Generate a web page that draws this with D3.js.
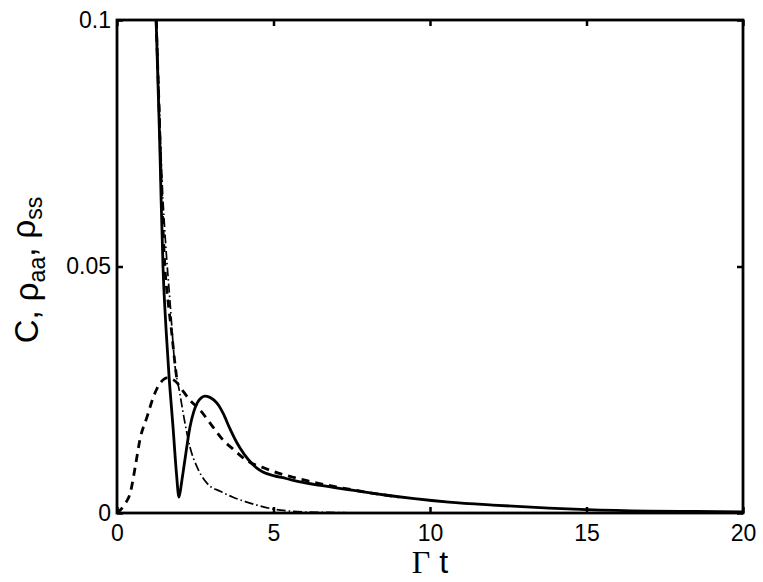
<!DOCTYPE html>
<html>
<head>
<meta charset="utf-8">
<script src="https://cdn.jsdelivr.net/npm/d3@7"></script>
<style>
  body { margin: 0; background: #fff; }
  svg { display: block; }
  .tick-label { font-family: "Liberation Sans", Arial, sans-serif; font-size: 23px; fill: #000; }
</style>
</head>
<body>
<div id="chart"></div>
<script>
// values
var xTicks = [0, 5, 10, 15, 20];
var yTicks = [0, 0.05, 0.1];
var yTickLabels = ["0", "0.05", "0.1"];

// solid curve
var solidT = [1.25, 1.31, 1.37, 1.41, 1.47, 1.57, 1.66, 1.79, 1.9, 1.98, 2.07, 2.17, 2.33, 2.45, 2.56, 2.7, 2.81, 2.95, 3.1, 3.25, 3.4, 3.6, 3.8, 3.93, 4.2, 4.47, 4.66, 5.0, 5.4, 5.85, 6.5, 7.44, 8.5, 9.5, 10.6, 12, 13.8, 15, 17, 18.5, 20];
var solidV = [0.1, 0.087, 0.074, 0.0635, 0.05, 0.037, 0.028, 0.0174, 0.008, 0.0032, 0.0065, 0.0108, 0.0174, 0.0205, 0.0223, 0.0234, 0.0237, 0.0235, 0.0229, 0.0218, 0.0201, 0.0172, 0.0146, 0.0132, 0.0108, 0.0091, 0.0083, 0.0076, 0.007, 0.0063, 0.0056, 0.0047, 0.0037, 0.0029, 0.0022, 0.0016, 0.001, 0.0007, 0.0004, 0.0003, 0.0002];

// dashed curve, rising branch and its tail
var dashT = [0, 0.25, 0.42, 0.6, 0.73, 0.96, 1.21, 1.4, 1.6, 1.75, 1.92, 2.1, 2.33, 2.65, 3.07, 3.39, 3.7, 4.03, 4.3, 4.63, 5.15, 5.6, 6.1, 7, 8, 9];
var dashV = [0, 0.0018, 0.004, 0.0100, 0.0148, 0.0195, 0.0243, 0.0265, 0.0274, 0.0272, 0.0264, 0.0248, 0.0229, 0.0209, 0.0174, 0.0148, 0.013, 0.0112, 0.0101, 0.0093, 0.0081, 0.0073, 0.0065, 0.0053, 0.0042, 0.0032];

// dashed curve, steep branch from the top
var dashTopT = [1.25, 1.33, 1.42, 1.53, 1.63, 1.74, 1.85, 1.93];
var dashTopV = [0.1, 0.085, 0.066, 0.05, 0.043, 0.037, 0.0304, 0.0262];

// dash-dot curve
var dotT = [1.27, 1.35, 1.45, 1.55, 1.69, 1.85, 2.0, 2.17, 2.33, 2.56, 2.88, 3.3, 3.71, 4.1, 4.47, 5.0, 5.5, 6, 7, 8, 10, 15, 20];
var dotV = [0.1, 0.083, 0.066, 0.055, 0.0432, 0.030, 0.0245, 0.0183, 0.0134, 0.0093, 0.006, 0.0044, 0.0032, 0.0023, 0.0016, 0.0008, 0.0004, 0.0002, 0.0001, 0, 0, 0, 0];

var svgWidth = 763;
var svgHeight = 582;

var margin = { top: 20, right: 20, bottom: 69, left: 117 };
var width = 743 - margin.left;
var height = 513 - margin.top;

var svg = d3.select("#chart")
  .append("svg")
  .attr("width", svgWidth)
  .attr("height", svgHeight);

var chartGroup = svg.append("g")
  .attr("transform", `translate(${margin.left}, ${margin.top})`);

var xScale = d3.scaleLinear().domain([0, 20]).range([0, width]);
var yScale = d3.scaleLinear().domain([0, 0.1]).range([height, 0]);

svg.append("defs").append("clipPath")
  .attr("id", "plot-clip")
  .append("rect")
  .attr("width", width)
  .attr("height", height);

function toPoints(ts, vs) {
  return ts.map(function(t, i) { return [t, vs[i]]; });
}

var line = d3.line()
  .x(d => xScale(d[0]))
  .y(d => yScale(d[1]))
  .curve(d3.curveMonotoneX);

var curves = chartGroup.append("g").attr("clip-path", "url(#plot-clip)");

// dash-dot
curves.append("path")
  .attr("d", line(toPoints(dotT, dotV)))
  .attr("fill", "none")
  .attr("stroke", "#000")
  .attr("stroke-width", 1.7)
  .attr("stroke-dasharray", "9,3,1.5,3");

// dashed
curves.append("path")
  .attr("d", line(toPoints(dashT, dashV)))
  .attr("fill", "none")
  .attr("stroke", "#000")
  .attr("stroke-width", 2.8)
  .attr("stroke-dasharray", "8,6");

curves.append("path")
  .attr("d", line(toPoints(dashTopT, dashTopV)))
  .attr("fill", "none")
  .attr("stroke", "#000")
  .attr("stroke-width", 2.8)
  .attr("stroke-dasharray", "8,6");

// solid
curves.append("path")
  .attr("d", line(toPoints(solidT, solidV)))
  .attr("fill", "none")
  .attr("stroke", "#000")
  .attr("stroke-width", 2.8);

// axes, ticks inward on all four sides
var tickLen = 6;
var xBottom = d3.axisBottom(xScale).tickValues(xTicks).tickSize(-tickLen).tickFormat(d3.format("d")).tickPadding(12);
var xTop = d3.axisTop(xScale).tickValues(xTicks).tickSize(-tickLen).tickFormat("");
var yLeft = d3.axisLeft(yScale).tickValues(yTicks).tickSize(-tickLen).tickPadding(6)
  .tickFormat((d, i) => yTickLabels[i]);
var yRight = d3.axisRight(yScale).tickValues(yTicks).tickSize(-tickLen).tickFormat("");

function styleAxis(g) {
  g.select(".domain").remove();
  g.selectAll(".tick line").attr("stroke", "#000").attr("stroke-width", 2.5);
  g.selectAll(".tick text")
    .attr("class", "tick-label")
    .attr("font-family", null)
    .attr("font-size", null);
}

chartGroup.append("g")
  .attr("transform", `translate(0, ${height})`)
  .call(xBottom)
  .call(styleAxis);

chartGroup.append("g").call(xTop).call(styleAxis);
chartGroup.append("g").call(yLeft).call(styleAxis);
chartGroup.append("g")
  .attr("transform", `translate(${width}, 0)`)
  .call(yRight)
  .call(styleAxis);

// box
chartGroup.append("rect")
  .attr("width", width)
  .attr("height", height)
  .attr("fill", "none")
  .attr("stroke", "#000")
  .attr("stroke-width", 2.8);

// x label: Γ t
svg.append("text")
  .attr("x", margin.left + width / 2)
  .attr("y", 573)
  .attr("text-anchor", "middle")
  .style("font-size", "32px")
  .call(function(t) {
    t.append("tspan").attr("font-family", "'Liberation Serif', 'Times New Roman', serif").text("Γ");
    t.append("tspan").attr("font-family", "'Liberation Sans', Arial, sans-serif").text(" t");
  });

// y label: C, ρaa, ρss
var yLabel = svg.append("text")
  .attr("transform", "translate(38, 270) rotate(-90)")
  .attr("text-anchor", "middle")
  .attr("font-family", "'Liberation Sans', Arial, sans-serif")
  .style("font-size", "33px");

yLabel.append("tspan").text("C, ρ");
yLabel.append("tspan").attr("dy", "0.3em").style("font-size", "23px").text("aa");
yLabel.append("tspan").attr("dy", "-0.3em").text(", ρ");
yLabel.append("tspan").attr("dy", "0.3em").style("font-size", "23px").text("ss");
</script>
</body>
</html>
